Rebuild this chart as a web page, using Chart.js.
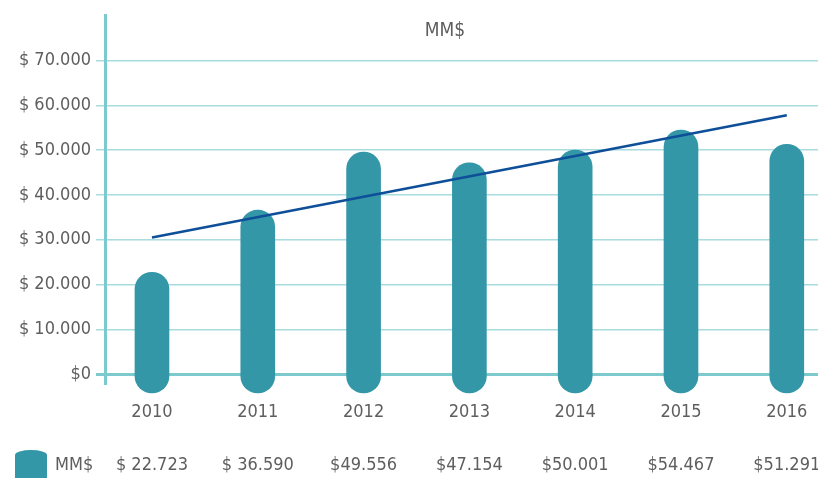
<!DOCTYPE html>
<html>
<head>
<meta charset="utf-8">
<script src="https://cdn.jsdelivr.net/npm/chart.js@4/dist/chart.umd.min.js"></script>
<style>
  html, body { margin: 0; padding: 0; background: #fff; overflow: hidden; }
  #chart { display: block; }
</style>
</head>
<body>
<canvas id="chart" width="818" height="478"></canvas>
<script>
// Data
var years = ["2010", "2011", "2012", "2013", "2014", "2015", "2016"];
var amounts = [22723, 36590, 49556, 47154, 50001, 54467, 51291];
var amountLabels = ["$ 22.723", "$ 36.590", "$49.556", "$47.154", "$50.001", "$54.467", "$51.291"];
var trendValues = [30500, null, null, null, null, null, 57800];
var yTicks = [0, 10000, 20000, 30000, 40000, 50000, 60000, 70000];
var yTickLabels = ["$0", "$ 10.000", "$ 20.000", "$ 30.000", "$ 40.000", "$ 50.000", "$ 60.000", "$ 70.000"];
var seriesName = "MM$";

var FONT = "'Liberation Sans Narrow', 'DejaVu Sans Condensed', sans-serif";
var TEXT = "#5e5e5e";
var TEAL = "#3497a8";
var GRID = "#a8dcdf";
var AXIS = "#7ccacd";

// title + value table under the axis
var extras = {
    id: "extras",
    afterDraw: function (chart) {
        var ctx = chart.ctx;
        var x = chart.scales.x;
        ctx.save();
        ctx.fillStyle = TEXT;
        ctx.font = "19px " + FONT;
        ctx.textAlign = "center";
        ctx.textBaseline = "middle";
        ctx.fillText(seriesName, 445, 31);

        // legend swatch
        ctx.fillStyle = TEAL;
        ctx.fillRect(15, 455, 32, 23);
        ctx.beginPath();
        ctx.ellipse(31, 455, 16, 5, 0, 0, Math.PI * 2);
        ctx.fill();

        ctx.fillStyle = TEXT;
        ctx.font = "18px " + FONT;
        ctx.textAlign = "left";
        ctx.fillText(seriesName, 55, 465);
        ctx.textAlign = "center";
        amountLabels.forEach(function (t, i) {
            ctx.fillText(t, x.getPixelForValue(i), 465);
        });
        ctx.restore();
    }
};

var ctx = document.getElementById("chart").getContext("2d");
var myChart = new Chart(ctx, {
    data: {
        datasets: [{
            type: "line",
            data: trendValues.map(function (v, i) { return { x: i, y: v }; }),
            borderColor: "#0d4f98",
            borderWidth: 2.5,
            pointRadius: 0,
            spanGaps: true,
            order: 1,
        }, {
            type: "bar",
            data: amounts.map(function (v, i) { return { x: i, y: v }; }),
            base: -4200,
            backgroundColor: TEAL,
            barThickness: 34,
            borderRadius: 17,
            borderSkipped: false,
            clip: false,
            order: 2,
        }],
    },
    plugins: [extras],
    options: {
        responsive: false,
        animation: false,
        devicePixelRatio: 1,
        layout: { padding: { top: 12, left: 0, right: 0, bottom: 0 } },
        plugins: {
            legend: { display: false },
            tooltip: { enabled: false },
        },
        scales: {
            x: {
                type: "linear",
                offset: false,
                min: -0.444,
                max: 6.295,
                afterBuildTicks: function (scale) {
                    scale.ticks = years.map(function (y, i) { return { value: i }; });
                },
                afterFit: function (scale) {
                    scale.height = 95;
                    scale.paddingLeft = 0;
                    scale.paddingRight = 0;
                },
                grid: { display: false, drawTicks: false },
                border: { display: false },
                ticks: {
                    padding: 19,
                    color: TEXT,
                    font: { family: FONT, size: 18 },
                    callback: function (v) { return years[v]; },
                },
            },
            y: {
                min: -2000,
                max: 80000,
                afterBuildTicks: function (scale) {
                    scale.ticks = yTicks.map(function (v) { return { value: v }; });
                },
                afterFit: function (scale) { scale.width = 105; },
                border: { display: true, color: AXIS, width: 3 },
                grid: {
                    color: function (c) { return c.tick && c.tick.value === 0 ? AXIS : GRID; },
                    lineWidth: function (c) { return c.tick && c.tick.value === 0 ? 3 : 1.5; },
                    tickLength: 9,
                },
                ticks: {
                    padding: 5,
                    color: TEXT,
                    font: { family: FONT, size: 18 },
                    callback: function (v) { return yTickLabels[yTicks.indexOf(v)]; },
                },
            },
        },
    },
});
</script>
</body>
</html>
